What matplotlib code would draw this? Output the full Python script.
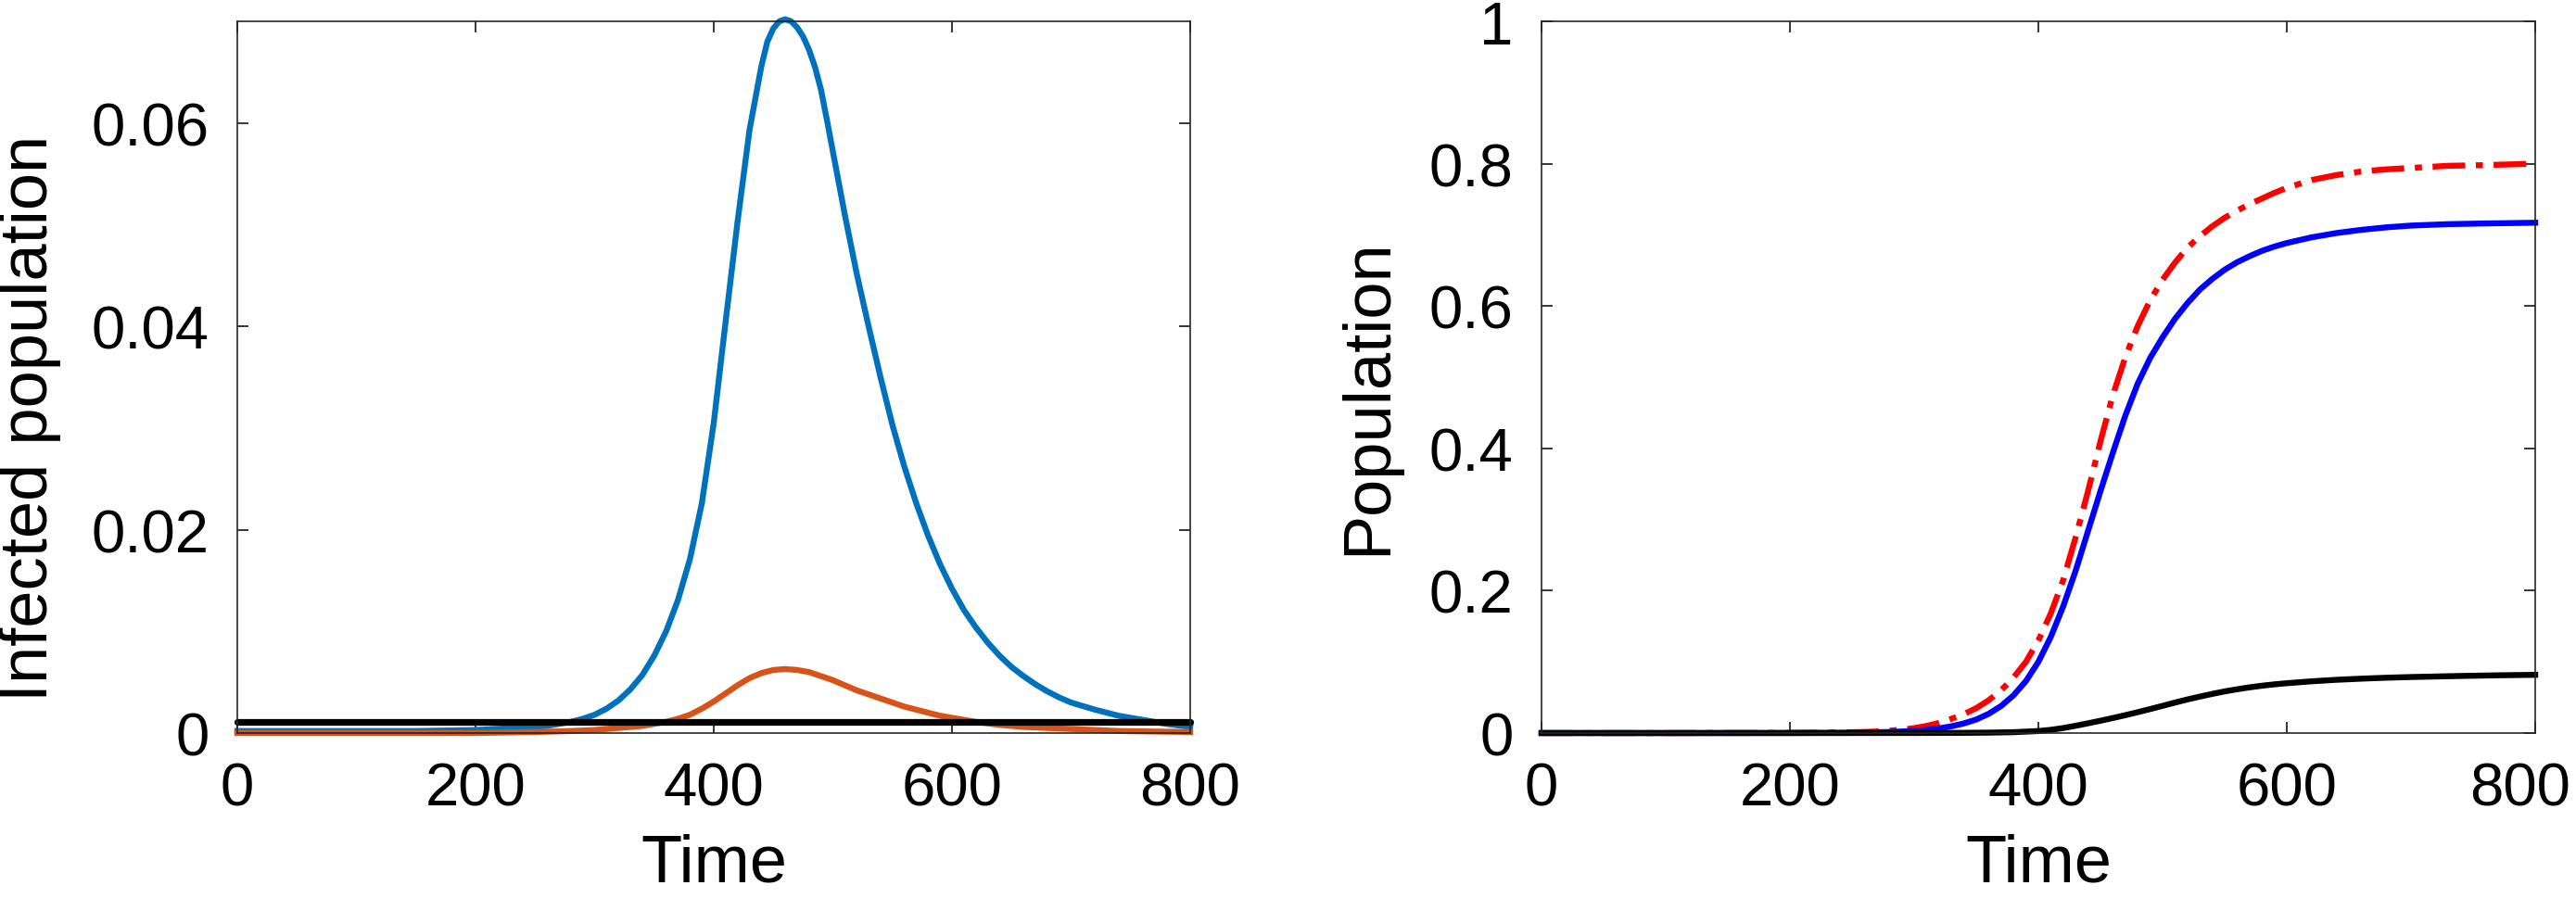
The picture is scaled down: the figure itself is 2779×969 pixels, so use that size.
import matplotlib
matplotlib.use("Agg")
import matplotlib.pyplot as plt
import matplotlib.transforms as mtransforms

plt.rcParams['font.family'] = ['Liberation Sans', 'DejaVu Sans']

# ---------------- data: left panel (infected population) ----------------
t_blue_left = [0, 50, 100, 150, 200, 250, 260, 270, 280, 290, 300, 310, 320, 330,
               340, 350, 360, 370, 380, 390, 400, 410, 420, 430, 440, 445, 450,
               455, 460, 465, 470, 475, 480, 485, 490, 495, 500, 510, 520, 530,
               540, 550, 560, 570, 580, 590, 600, 610, 620, 630, 640, 650, 660,
               670, 680, 690, 700, 720, 740, 760, 780, 800]
i_blue_left = [0.0002, 0.0002, 0.0002, 0.0002, 0.0003, 0.0006, 0.0007, 0.0009,
               0.0011, 0.0014, 0.0018, 0.0024, 0.0032, 0.0043, 0.0057, 0.0076,
               0.0100, 0.0131, 0.0171, 0.0226, 0.0305, 0.0405, 0.0503, 0.0593,
               0.0656, 0.0680, 0.0693, 0.0700, 0.0702, 0.0700, 0.0694, 0.0685,
               0.0672, 0.0655, 0.0633, 0.0603, 0.0572, 0.0510, 0.0452, 0.0400,
               0.0350, 0.0303, 0.0262, 0.0226, 0.0194, 0.0166, 0.0142, 0.0121,
               0.0104, 0.0089, 0.0076, 0.0065, 0.0056, 0.0048, 0.0041, 0.0035,
               0.0030, 0.0023, 0.0017, 0.0013, 0.0009, 0.0006]

t_orange_left = [0, 100, 200, 250, 280, 300, 310, 320, 330, 340, 350, 360, 370,
                 380, 390, 400, 410, 420, 430, 440, 450, 460, 470, 480, 490, 500,
                 510, 520, 530, 540, 550, 560, 570, 580, 590, 600, 620, 640, 660,
                 680, 700, 740, 800]
i_orange_left = [0.0, 0.0, 0.0, 0.0001, 0.0002, 0.0003, 0.0004, 0.0005, 0.0006,
                 0.0007, 0.0009, 0.0011, 0.0014, 0.0018, 0.0024, 0.0031, 0.0039,
                 0.0047, 0.0054, 0.0059, 0.0062, 0.0063, 0.0062, 0.0060, 0.0056,
                 0.0052, 0.0047, 0.0042, 0.0038, 0.0034, 0.0030, 0.0026, 0.0023,
                 0.0020, 0.0017, 0.0015, 0.0011, 0.0008, 0.0006, 0.0005, 0.0004,
                 0.0002, 0.0001]

t_black_left = [0, 800]
i_black_left = [0.0011, 0.0011]

left_yticks = [0, 0.02, 0.04, 0.06]
left_yticklabels = ['0', '0.02', '0.04', '0.06']

# ---------------- data: right panel (population) ----------------
t_red = [0, 100, 200, 220, 240, 260, 270, 280, 290, 300, 310, 320, 330, 340, 350,
         360, 370, 380, 390, 400, 410, 420, 430, 440, 450, 460, 470, 480, 490,
         500, 510, 520, 530, 540, 550, 560, 570, 580, 590, 600, 620, 640, 660,
         680, 700, 730, 760, 800]
p_red = [0.0, 0.0, 0.0003, 0.0005, 0.0009, 0.0015, 0.0022, 0.0033, 0.0048,
         0.0069, 0.0100, 0.0142, 0.0200, 0.0265, 0.0350, 0.0460, 0.0600, 0.0780,
         0.1000, 0.1300, 0.1680, 0.2150, 0.2750, 0.3400, 0.4100, 0.4750, 0.5280,
         0.5720, 0.6080, 0.6370, 0.6610, 0.6820, 0.6980, 0.7120, 0.7240, 0.7340,
         0.7430, 0.7510, 0.7590, 0.7660, 0.7770, 0.7840, 0.7890, 0.7920, 0.7940,
         0.7970, 0.7980, 0.8000]

t_blue = [0, 100, 200, 240, 260, 280, 300, 310, 320, 330, 340, 350, 360, 370,
          380, 390, 400, 410, 420, 430, 440, 450, 460, 470, 480, 490, 500, 510,
          520, 530, 540, 550, 560, 570, 580, 590, 600, 620, 640, 660, 680, 700,
          730, 760, 800]
p_blue = [0.0, 0.0, 0.0001, 0.0004, 0.0008, 0.0015, 0.0030, 0.0043, 0.0065,
          0.0095, 0.0135, 0.0190, 0.0270, 0.0380, 0.0530, 0.0730, 0.1000, 0.1350,
          0.1780, 0.2280, 0.2840, 0.3400, 0.3940, 0.4460, 0.4910, 0.5270, 0.5560,
          0.5820, 0.6040, 0.6230, 0.6380, 0.6510, 0.6615, 0.6700, 0.6775, 0.6835,
          0.6885, 0.6965, 0.7025, 0.7070, 0.7105, 0.7130, 0.7150, 0.7160, 0.7170]

t_black = [0, 100, 200, 300, 340, 360, 380, 400, 410, 420, 430, 440, 450, 460,
           470, 480, 490, 500, 510, 520, 530, 540, 550, 560, 570, 580, 590, 600,
           620, 640, 660, 680, 700, 740, 770, 800]
p_black = [0.0, 0.0, 0.0, 0.0001, 0.0003, 0.0006, 0.0012, 0.0028, 0.0045, 0.0070,
           0.0102, 0.0137, 0.0173, 0.0211, 0.0251, 0.0293, 0.0337, 0.0382, 0.0428,
           0.0472, 0.0512, 0.0550, 0.0585, 0.0615, 0.0642, 0.0665, 0.0684, 0.0700,
           0.0727, 0.0748, 0.0764, 0.0777, 0.0787, 0.0802, 0.0811, 0.0818]

right_yticks = [0, 0.2, 0.4, 0.6, 0.8, 1.0]
right_yticklabels = ['0', '0.2', '0.4', '0.6', '0.8', '1']

xticks = [0, 200, 400, 600, 800]
xticklabels = ['0', '200', '400', '600', '800']

# ---------------- figure ----------------
W, H = 2779, 970
fig = plt.figure(figsize=(W / 100, H / 100), dpi=100)
ax1 = fig.add_axes([256 / W, (H - 792) / H, 1028 / W, 768 / H])
ax2 = fig.add_axes([1663 / W, (H - 792) / H, 1072 / W, 768 / H])

LW = 4.6
TICK_FS = 47
LABEL_FS = 52

ax1.plot(t_blue_left, i_blue_left, color='#0072BD', lw=LW, clip_on=False,
         solid_joinstyle='round')
ax1.plot(t_orange_left, i_orange_left, color='#D95319', lw=LW, clip_on=False,
         solid_joinstyle='round')
ax1.plot(t_black_left, i_black_left, color='black', lw=LW + 0.6, clip_on=False,
         solid_capstyle='round')
ax1.set_xlim(0, 800)
ax1.set_ylim(0, 0.07)
ax1.set_yticks(left_yticks)
ax1.set_yticklabels(left_yticklabels)
ax1.set_ylabel('Infected population', fontsize=LABEL_FS)

ax2.plot(t_red, p_red, color='#FF0000', lw=LW, clip_on=False,
         linestyle=(0, (5.5, 1.8, 1.2, 1.8)))
ax2.plot(t_blue, p_blue, color='#0000FF', lw=LW, clip_on=False,
         solid_joinstyle='round')
ax2.plot(t_black, p_black, color='black', lw=LW, clip_on=False,
         solid_joinstyle='round')
ax2.set_xlim(0, 800)
ax2.set_ylim(0, 1)
ax2.set_yticks(right_yticks)
ax2.set_yticklabels(right_yticklabels)
ax2.set_ylabel('Population', fontsize=LABEL_FS)

for ax in (ax1, ax2):
    ax.set_xticks(xticks)
    ax.set_xticklabels(xticklabels)
    ax.set_xlabel('Time', fontsize=LABEL_FS, labelpad=12)
    ax.tick_params(direction='in', length=8.5, width=1.1, top=True, right=True,
                   labelsize=TICK_FS)
    ax.tick_params(axis='x', pad=22)
    ax.tick_params(axis='y', pad=22)
    for s in ax.spines.values():
        s.set_linewidth(1.2)
        s.set_color('#262626')

ax1.yaxis.set_label_coords(-0.185, 0.443)
ax2.yaxis.set_label_coords(-0.143, 0.474)

# keep the last x tick label of the right panel inside the figure
fig.canvas.draw()
last = ax2.get_xticklabels()[-1]
last.set_transform(last.get_transform() +
                   mtransforms.ScaledTranslation(-0.16, 0, fig.dpi_scale_trans))

fig.savefig('out.png', dpi=100)
